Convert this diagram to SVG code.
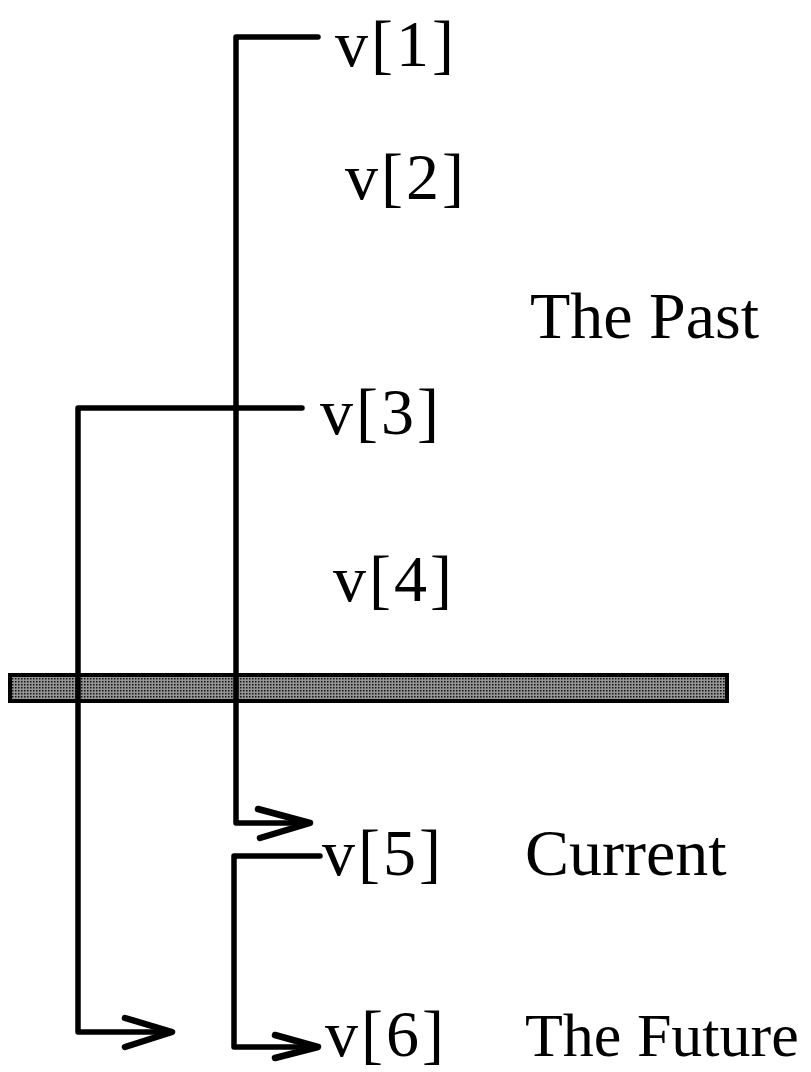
<svg xmlns="http://www.w3.org/2000/svg" width="811" height="1072" viewBox="0 0 811 1072">
<style>
.t{font-family:"Liberation Serif","Times New Roman",serif;font-size:66px;fill:#000}
.v{letter-spacing:3px}
.f{font-size:62px}
.c{fill:none;stroke:#000;stroke-width:5.5;stroke-linecap:round;stroke-linejoin:round}
.a{fill:none;stroke:#000;stroke-width:6.5;stroke-linecap:round;stroke-linejoin:round}
</style>
<defs>
<pattern id="dots" width="3" height="3" patternUnits="userSpaceOnUse">
<rect width="3" height="3" fill="#959595"/>
<rect width="1.5" height="1.5" fill="#111"/>
</pattern>
</defs>
<rect width="811" height="1072" fill="#fff"/>
<g id="bar">
<rect x="10" y="675" width="717" height="26" fill="url(#dots)" stroke="#000" stroke-width="4"/>
</g>
<g id="connectors">
<path class="c" d="M318,37 H236 V823 H308"/>
<path class="a" d="M258,809 L310,823 L260,838"/>
<path class="c" d="M302,408 H78 V1032 H170"/>
<path class="a" d="M125,1018 L172,1032 L125,1047"/>
<path class="c" d="M320,856 H234 V1047 H316"/>
<path class="a" d="M275,1035 L318,1047 L275,1058"/>
</g>
<g id="v1"><text class="t v" x="335" y="66">v[1]</text></g>
<g id="v2"><text class="t v" x="345" y="199">v[2]</text></g>
<g id="past"><text class="t" x="530" y="338">The Past</text></g>
<g id="v3"><text class="t v" x="320" y="434">v[3]</text></g>
<g id="v4"><text class="t v" x="333" y="601">v[4]</text></g>
<g id="v5"><text class="t v" x="322" y="875">v[5]</text></g>
<g id="current"><text class="t" x="525" y="875">Current</text></g>
<g id="v6"><text class="t v" x="325" y="1056">v[6]</text></g>
<g id="future"><text class="t f" x="525" y="1056">The Future</text></g>
</svg>
